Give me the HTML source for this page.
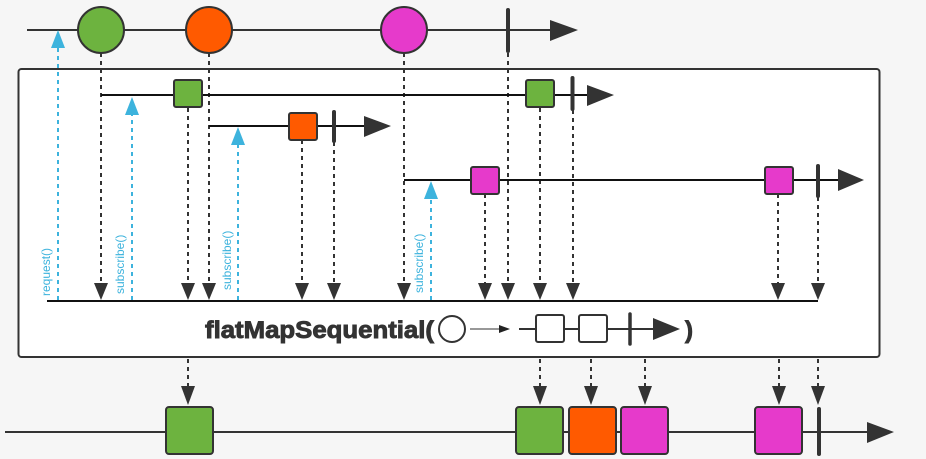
<!DOCTYPE html>
<html><head><meta charset="utf-8"><style>
html,body{margin:0;padding:0;background:#f6f6f6;}
svg{display:block}
.t{font-family:"Liberation Sans",sans-serif;font-weight:700;fill:#333;stroke:#333;stroke-width:0.9px;}
</style></head><body>
<svg width="926" height="459" viewBox="0 0 926 459" xmlns="http://www.w3.org/2000/svg">
<rect width="926" height="459" fill="#f6f6f6"/>
<line x1="27" y1="30" x2="552" y2="30" stroke="#333" stroke-width="2"/>
<polygon points="550,20 578,30 550,41" fill="#333"/>
<rect x="18.5" y="69" width="861" height="288" rx="3" fill="#ffffff" stroke="#333" stroke-width="2"/>
<g stroke="#333" stroke-width="2" stroke-dasharray="4,4">
<line x1="101" y1="53" x2="101" y2="285"/>
<line x1="188" y1="108" x2="188" y2="285"/>
<line x1="209" y1="53" x2="209" y2="285"/>
<line x1="302" y1="140" x2="302" y2="285"/>
<line x1="334" y1="142" x2="334" y2="285"/>
<line x1="404" y1="53" x2="404" y2="285"/>
<line x1="485" y1="194" x2="485" y2="285"/>
<line x1="508" y1="53" x2="508" y2="285"/>
<line x1="540" y1="108" x2="540" y2="285"/>
<line x1="573" y1="110" x2="573" y2="285"/>
<line x1="778" y1="194" x2="778" y2="285"/>
<line x1="818" y1="197" x2="818" y2="285"/>
<line x1="188" y1="359" x2="188" y2="388"/>
<line x1="540" y1="359" x2="540" y2="388"/>
<line x1="591" y1="359" x2="591" y2="388"/>
<line x1="645" y1="359" x2="645" y2="388"/>
<line x1="779" y1="359" x2="779" y2="388"/>
<line x1="818" y1="359" x2="818" y2="388"/>
</g>
<g fill="#333">
<polygon points="94,283 108,283 101,300"/>
<polygon points="181,283 195,283 188,300"/>
<polygon points="202,283 216,283 209,300"/>
<polygon points="295,283 309,283 302,300"/>
<polygon points="327,283 341,283 334,300"/>
<polygon points="397,283 411,283 404,300"/>
<polygon points="478,283 492,283 485,300"/>
<polygon points="501,283 515,283 508,300"/>
<polygon points="533,283 547,283 540,300"/>
<polygon points="566,283 580,283 573,300"/>
<polygon points="771,283 785,283 778,300"/>
<polygon points="811,283 825,283 818,300"/>
<polygon points="181,386 195,386 188,405"/>
<polygon points="533,386 547,386 540,405"/>
<polygon points="584,386 598,386 591,405"/>
<polygon points="638,386 652,386 645,405"/>
<polygon points="772,386 786,386 779,405"/>
<polygon points="811,386 825,386 818,405"/>
</g>
<g stroke="#3db3dd" stroke-width="2" stroke-dasharray="4,4">
<line x1="58" y1="300" x2="58" y2="46"/>
<line x1="132" y1="300" x2="132" y2="113"/>
<line x1="238" y1="300" x2="238" y2="143"/>
<line x1="431" y1="300" x2="431" y2="197"/>
</g>
<g fill="#3db3dd">
<polygon points="51,48 65,48 58,30"/>
<polygon points="125,115 139,115 132,97"/>
<polygon points="231,145 245,145 238,127"/>
<polygon points="424,199 438,199 431,181"/>
</g>
<g fill="#3db3dd" font-family="Liberation Sans, sans-serif" font-size="12">
<text transform="translate(50,296) rotate(-90)">request()</text>
<text transform="translate(124,294) rotate(-90)">subscribe()</text>
<text transform="translate(231,290) rotate(-90)">subscribe()</text>
<text transform="translate(423,293) rotate(-90)">subscribe()</text>
</g>
<g stroke="#111" stroke-width="2">
<line x1="101" y1="95" x2="590" y2="95"/>
<line x1="209" y1="126" x2="366" y2="126"/>
<line x1="404" y1="180" x2="840" y2="180"/>
<line x1="47" y1="301" x2="818" y2="301"/>
</g>
<g fill="#333">
<polygon points="587,85 614,95 587,106"/>
<polygon points="364,116 391,126 364,137"/>
<polygon points="838,169 864,180 838,191"/>
</g>
<g stroke="#333" stroke-width="2">
<rect x="174" y="80" width="28" height="27" rx="2" fill="#6db33f"/>
<rect x="526" y="80" width="28" height="27" rx="2" fill="#6db33f"/>
<rect x="289" y="113" width="28" height="27" rx="2" fill="#ff5a00"/>
<rect x="471" y="167" width="28" height="27" rx="2" fill="#e63acb"/>
<rect x="765" y="167" width="28" height="27" rx="2" fill="#e63acb"/>
</g>
<g stroke="#333" stroke-width="4" stroke-linecap="round">
<line x1="508" y1="10" x2="508" y2="51"/>
<line x1="572.5" y1="78" x2="572.5" y2="109"/>
<line x1="334" y1="112" x2="334" y2="141"/>
<line x1="818" y1="166" x2="818" y2="196"/>
</g>
<g stroke="#333" stroke-width="2">
<circle cx="101" cy="30" r="23" fill="#6db33f"/>
<circle cx="209" cy="30" r="23" fill="#ff5a00"/>
<circle cx="404" cy="30" r="23" fill="#e63acb"/>
</g>
<text class="t" x="205" y="338" font-size="24" textLength="229" lengthAdjust="spacingAndGlyphs">flatMapSequential(</text>
<circle cx="452" cy="329" r="13" fill="#fff" stroke="#333" stroke-width="2"/>
<line x1="470" y1="329" x2="500" y2="329" stroke="#777" stroke-width="1.5"/>
<polygon points="499,325 510,329 499,333" fill="#222"/>
<line x1="519" y1="329" x2="655" y2="329" stroke="#333" stroke-width="2"/>
<rect x="536" y="315" width="28" height="27" rx="2" fill="#fff" stroke="#333" stroke-width="2"/>
<rect x="579" y="315" width="28" height="27" rx="2" fill="#fff" stroke="#333" stroke-width="2"/>
<line x1="630" y1="314" x2="630" y2="344" stroke="#333" stroke-width="3.5" stroke-linecap="round"/>
<polygon points="653,318 680,329 653,340" fill="#333"/>
<text class="t" x="685" y="338" font-size="24">)</text>
<line x1="5" y1="432" x2="868" y2="432" stroke="#333" stroke-width="2"/>
<polygon points="867,422 894,432 867,443" fill="#333"/>
<g stroke="#333" stroke-width="2">
<rect x="166" y="407" width="47" height="47" rx="3" fill="#6db33f"/>
<rect x="516" y="407" width="47" height="47" rx="3" fill="#6db33f"/>
<rect x="569" y="407" width="47" height="47" rx="3" fill="#ff5a00"/>
<rect x="621" y="407" width="47" height="47" rx="3" fill="#e63acb"/>
<rect x="755" y="407" width="47" height="47" rx="3" fill="#e63acb"/>
</g>
<line x1="819" y1="409" x2="819" y2="454" stroke="#333" stroke-width="4" stroke-linecap="round"/>
</svg>
</body></html>
